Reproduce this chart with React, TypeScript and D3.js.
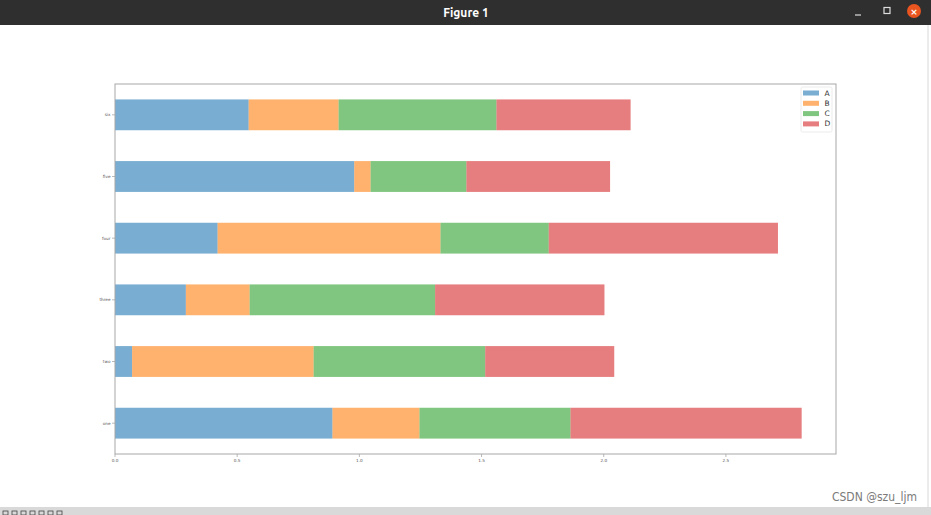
import React from "react";
import * as d3 from "d3";

const categories = ["one", "two", "three", "four", "five", "six"];
const seriesNames = ["A", "B", "C", "D"];
const seriesA = [0.89, 0.07, 0.29, 0.42, 0.979, 0.547];
const seriesB = [0.356, 0.743, 0.261, 0.912, 0.067, 0.368];
const seriesC = [0.618, 0.702, 0.759, 0.443, 0.392, 0.646];
const seriesD = [0.946, 0.528, 0.693, 0.938, 0.588, 0.549];
const xTicks = [0, 0.5, 1.0, 1.5, 2.0, 2.5];
const colors = ["#1f77b4", "#ff7f0e", "#2ca02c", "#d62728"];

const W = 931;
const H = 515;
const left = 115;
const right = 836;
const top = 84;
const bottom = 454;

export default function App() {
  const rows = categories.map((c, i) => ({
    cat: c,
    A: seriesA[i],
    B: seriesB[i],
    C: seriesC[i],
    D: seriesD[i],
  }));
  const stack = d3.stack<any>().keys(seriesNames)(rows);
  const maxTotal = d3.max(rows, (r) => r.A + r.B + r.C + r.D) as number;
  const x = d3.scaleLinear().domain([0, maxTotal * 1.05]).range([left, right]);
  const y = d3
    .scaleBand()
    .domain([...categories].reverse())
    .range([top, bottom])
    .paddingInner(0.5)
    .paddingOuter(0.25);

  const font = "DejaVu Sans, sans-serif";

  return (
    <div style={{ position: "absolute", left: 0, top: 0 }}>
      <svg width={W} height={H} style={{ display: "block" }}>
        <rect x={0} y={0} width={W} height={H} fill="#ffffff" />
        {/* title bar */}
        <rect x={0} y={0} width={W} height={25} fill="#2f2f2f" />
        <text x={466} y={16.5} textAnchor="middle" fill="#ffffff" fontFamily="Ubuntu, DejaVu Sans, sans-serif" fontWeight="bold" fontSize={12}>
          Figure 1
        </text>
        <line x1={855} x2={861} y1={15} y2={15} stroke="#dddddd" strokeWidth={1.2} />
        <rect x={884} y={7.5} width={6} height={6} fill="none" stroke="#dddddd" strokeWidth={1.2} />
        <circle cx={914} cy={11} r={7} fill="#e9541f" />
        <text x={914} y={14.5} textAnchor="middle" fill="#ffffff" fontFamily={font} fontSize={9} fontWeight="bold">×</text>
        <line x1={928} x2={928} y1={25} y2={507} stroke="#d8d8d8" strokeWidth={1} />

        {/* bars */}
        {stack.map((layer, si) =>
          layer.map((d, i) => (
            <rect
              key={`${si}-${i}`}
              x={x(d[0])}
              y={y(rows[i].cat) as number}
              width={x(d[1]) - x(d[0])}
              height={y.bandwidth()}
              fill={colors[si]}
              fillOpacity={0.6}
            />
          ))
        )}

        {/* spines */}
        <rect x={left} y={top} width={right - left} height={bottom - top} fill="none" stroke="#a8a8a8" strokeWidth={1} />

        {/* x ticks */}
        {xTicks.map((t) => (
          <g key={t}>
            <line x1={x(t)} x2={x(t)} y1={bottom} y2={bottom + 3} stroke="#a8a8a8" strokeWidth={0.8} />
            <text x={x(t)} y={bottom + 7.5} textAnchor="middle" fontFamily={font} fontSize={4.2} fill="#555">
              {t.toFixed(1)}
            </text>
          </g>
        ))}

        {/* y ticks */}
        {categories.map((c) => {
          const cy = (y(c) as number) + y.bandwidth() / 2;
          return (
            <g key={c}>
              <line x1={left - 3} x2={left} y1={cy} y2={cy} stroke="#a8a8a8" strokeWidth={0.8} />
              <text x={left - 4.5} y={cy + 1.5} textAnchor="end" fontFamily={font} fontSize={4.2} fill="#555">
                {c}
              </text>
            </g>
          );
        })}

        {/* legend */}
        <rect x={801} y={87} width={31} height={45} fill="#ffffff" fillOpacity={0.8} stroke="#e6e6e6" strokeWidth={0.8} rx={1.5} />
        {seriesNames.map((s, i) => (
          <g key={s}>
            <rect x={803} y={90.5 + i * 10.3} width={16} height={5} fill={colors[i]} fillOpacity={0.6} />
            <text x={824.5} y={95.5 + i * 10.3} fontFamily={font} fontSize={7.5} fill="#333">
              {s}
            </text>
          </g>
        ))}

        {/* watermark */}
        <text x={917} y={501} textAnchor="end" fontFamily="Liberation Sans Narrow, DejaVu Sans Condensed, sans-serif" fontSize={12} fill="#7a7a7a">
          CSDN @szu_ljm
        </text>

        {/* bottom toolbar */}
        <rect x={0} y={507} width={W} height={8} fill="#d9d9d9" />
        {[3, 12, 21, 30, 39, 48, 57].map((bx, i) => (
          <rect key={i} x={bx} y={511} width={5} height={4} fill="none" stroke="#444" strokeWidth={0.8} />
        ))}
      </svg>
    </div>
  );
}
